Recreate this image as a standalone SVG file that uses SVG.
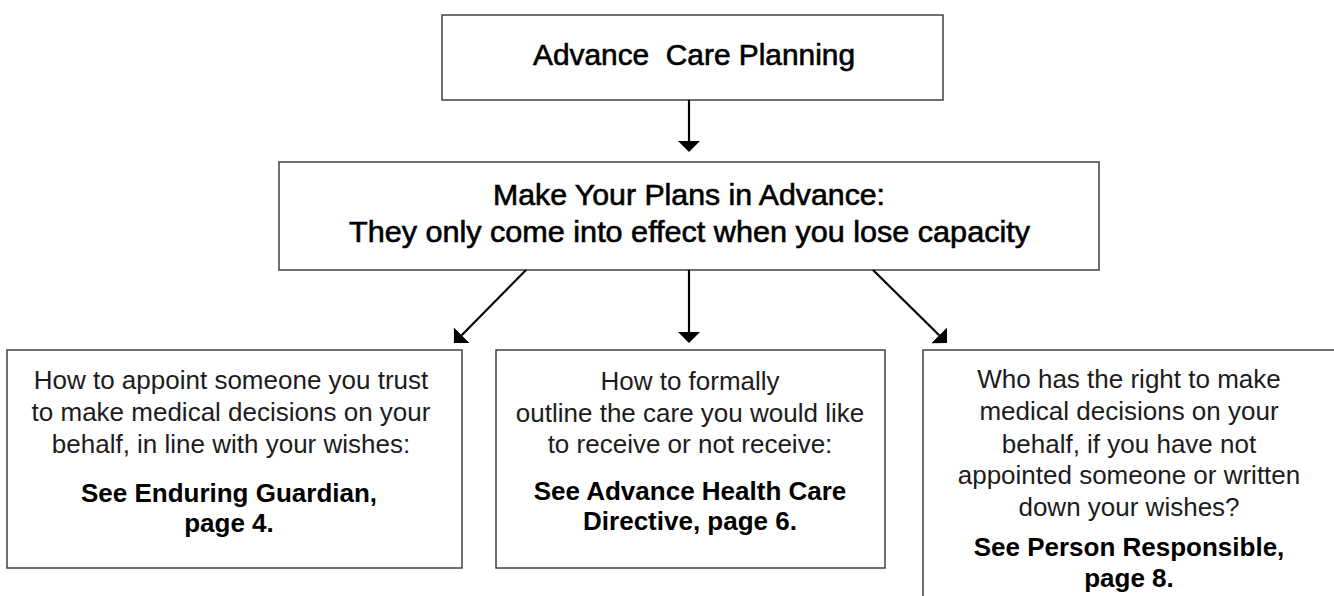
<svg xmlns="http://www.w3.org/2000/svg" width="1334" height="596" viewBox="0 0 1334 596">
<style>
  .box { fill: #ffffff; stroke: #333333; stroke-width: 1.4; }
  .head { font-family: "Liberation Sans", Arial, sans-serif; font-size: 29px; fill: #000; stroke: #000; stroke-width: 0.6; text-anchor: middle; white-space: pre; }
  .body { font-family: "Liberation Sans", Arial, sans-serif; font-size: 26px; fill: #1c1c1c; text-anchor: middle; }
  .bold { font-family: "Liberation Sans", Arial, sans-serif; font-size: 26px; font-weight: bold; fill: #000; text-anchor: middle; }
  .conn { stroke: #000; stroke-width: 2.2; fill: none; marker-end: url(#arrow); }
</style>
<defs>
  <marker id="arrow" markerUnits="userSpaceOnUse" viewBox="0 0 11 22" markerWidth="11" markerHeight="22" refX="0" refY="11" orient="auto">
    <path d="M0,0 L11,11 L0,22 Z" fill="#000"/>
  </marker>
</defs>
<rect width="1334" height="596" fill="#ffffff"/>

<g id="node-acp">
  <rect class="box" x="442" y="15" width="501" height="85"/>
  <text class="head" x="694" y="65" xml:space="preserve" textLength="322" lengthAdjust="spacingAndGlyphs">Advance  Care Planning</text>
</g>

<g id="node-plans">
  <rect class="box" x="279" y="162" width="820" height="108"/>
  <text class="head" x="689" y="205" textLength="392" lengthAdjust="spacingAndGlyphs">Make Your Plans in Advance:</text>
  <text class="head" x="689.5" y="242" textLength="681" lengthAdjust="spacingAndGlyphs">They only come into effect when you lose capacity</text>
</g>

<g id="node-guardian">
  <rect class="box" x="7" y="350" width="455" height="218"/>
  <text class="body" x="231" y="389">How to appoint someone you trust</text>
  <text class="body" x="231" y="421">to make medical decisions on your</text>
  <text class="body" x="231" y="453">behalf, in line with your wishes:</text>
  <text class="bold" x="229" y="502">See Enduring Guardian,</text>
  <text class="bold" x="229" y="532">page 4.</text>
</g>

<g id="node-directive">
  <rect class="box" x="496" y="350" width="389" height="218"/>
  <text class="body" x="690" y="390">How to formally</text>
  <text class="body" x="690" y="422">outline the care you would like</text>
  <text class="body" x="690" y="453">to receive or not receive:</text>
  <text class="bold" x="690" y="500">See Advance Health Care</text>
  <text class="bold" x="690" y="530">Directive, page 6.</text>
</g>

<g id="node-person">
  <rect class="box" x="923" y="350" width="430" height="270"/>
  <text class="body" x="1129" y="388">Who has the right to make</text>
  <text class="body" x="1129" y="420">medical decisions on your</text>
  <text class="body" x="1129" y="453">behalf, if you have not</text>
  <text class="body" x="1129" y="484">appointed someone or written</text>
  <text class="body" x="1129" y="516">down your wishes?</text>
  <text class="bold" x="1129" y="556">See Person Responsible,</text>
  <text class="bold" x="1129" y="587">page 8.</text>
</g>

<g id="connectors">
  <line class="conn" x1="689" y1="100" x2="689" y2="141"/>
  <line class="conn" x1="689" y1="270" x2="689" y2="332"/>
  <line class="conn" x1="526" y1="270" x2="461.7" y2="335.2"/>
  <line class="conn" x1="873" y1="270" x2="939.2" y2="335.3"/>
</g>
</svg>
